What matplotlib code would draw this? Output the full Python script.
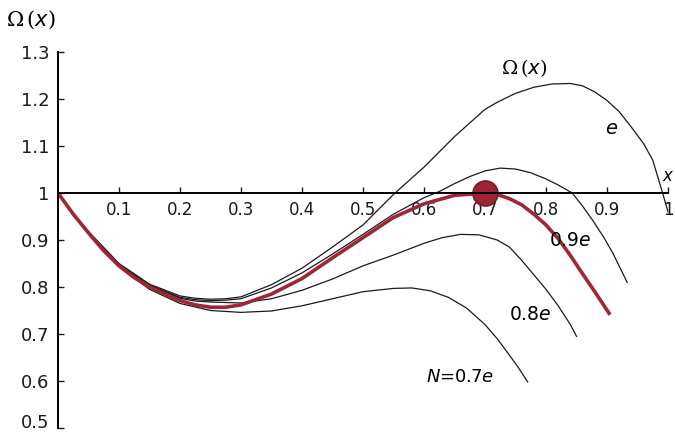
import matplotlib
matplotlib.use("Agg")
import matplotlib.pyplot as plt

# curve N = e
x_e = [0, 0.025, 0.05, 0.1, 0.15, 0.2, 0.225, 0.25, 0.275, 0.3, 0.35, 0.4, 0.45, 0.5, 0.55,
       0.6, 0.65, 0.7, 0.72, 0.75, 0.78, 0.81, 0.84, 0.86, 0.88, 0.9, 0.92, 0.94, 0.96,
       0.975, 0.99, 1.0]
y_e = [1, 0.957, 0.918, 0.85, 0.806, 0.781, 0.776, 0.774, 0.775, 0.779, 0.805, 0.84, 0.885,
       0.932, 0.997, 1.055, 1.12, 1.178, 1.193, 1.212, 1.225, 1.232, 1.233, 1.228, 1.215,
       1.197, 1.173, 1.14, 1.105, 1.07, 1.005, 0.96]

# curve N = 0.9e
x_09 = [0, 0.025, 0.05, 0.1, 0.15, 0.2, 0.225, 0.25, 0.275, 0.3, 0.35, 0.4, 0.45, 0.5,
        0.55, 0.6, 0.625, 0.65, 0.675, 0.7, 0.725, 0.75, 0.775, 0.8, 0.82, 0.843, 0.86,
        0.877, 0.895, 0.91, 0.933]
y_09 = [1, 0.956, 0.917, 0.848, 0.804, 0.778, 0.773, 0.771, 0.772, 0.775, 0.798, 0.83,
        0.87, 0.912, 0.955, 0.99, 1.003, 1.02, 1.035, 1.047, 1.053, 1.051, 1.043, 1.03,
        1.017, 1.0, 0.972, 0.941, 0.905, 0.871, 0.81]

# curve N = 0.8e
x_08 = [0, 0.025, 0.05, 0.1, 0.15, 0.2, 0.225, 0.25, 0.275, 0.3, 0.35, 0.4, 0.45, 0.5,
        0.55, 0.6, 0.63, 0.66, 0.69, 0.72, 0.74, 0.76, 0.78, 0.8, 0.82, 0.84, 0.85]
y_08 = [1, 0.956, 0.916, 0.846, 0.802, 0.776, 0.77, 0.768, 0.767, 0.766, 0.775, 0.793,
        0.817, 0.845, 0.868, 0.893, 0.905, 0.912, 0.911, 0.9, 0.885, 0.857, 0.826, 0.795,
        0.76, 0.72, 0.695]

# curve N = 0.7e
x_07 = [0, 0.025, 0.05, 0.1, 0.15, 0.2, 0.25, 0.3, 0.35, 0.4, 0.45, 0.5, 0.55, 0.58, 0.61,
        0.64, 0.67, 0.7, 0.72, 0.74, 0.755, 0.77]
y_07 = [1, 0.955, 0.915, 0.843, 0.795, 0.765, 0.75, 0.746, 0.749, 0.76, 0.775, 0.79, 0.797,
        0.798, 0.792, 0.778, 0.755, 0.72, 0.69, 0.655, 0.628, 0.598]

# highlighted curve
x_red = [0, 0.025, 0.05, 0.075, 0.1, 0.125, 0.15, 0.175, 0.2, 0.225, 0.25, 0.275, 0.3, 0.35,
         0.4, 0.45, 0.5, 0.55, 0.6, 0.65, 0.7, 0.72, 0.74, 0.76, 0.78, 0.8, 0.82, 0.84, 0.86,
         0.88, 0.905]
y_red = [1, 0.955, 0.915, 0.877, 0.845, 0.82, 0.8, 0.785, 0.771, 0.762, 0.757, 0.757, 0.762,
         0.785, 0.818, 0.862, 0.905, 0.948, 0.977, 0.995, 1.0, 0.997, 0.988, 0.975, 0.955,
         0.932, 0.903, 0.867, 0.828, 0.79, 0.741]

peak_x = [0.7]
peak_y = [1.0]

xticks = [0.1, 0.2, 0.3, 0.4, 0.5, 0.6, 0.7, 0.8, 0.9, 1.0]
xlabels = ["0.1", "0.2", "0.3", "0.4", "0.5", "0.6", "0.7", "0.8", "0.9", "1"]
yticks = [0.5, 0.6, 0.7, 0.8, 0.9, 1.0, 1.1, 1.2, 1.3]
ylabels = ["0.5", "0.6", "0.7", "0.8", "0.9", "1", "1.1", "1.2", "1.3"]

# serif Omega and brackets, italic sans letters as in the scan
plt.rcParams["mathtext.fontset"] = "custom"
plt.rcParams["mathtext.rm"] = "DejaVu Serif"
plt.rcParams["mathtext.it"] = "DejaVu Sans:italic"

fig = plt.figure(figsize=(6.75, 4.34), dpi=100)
ax = fig.add_axes([58 / 675, 0, 617 / 675, 1])
ax.set_xlim(0, 617 / 610)
ax.set_ylim(1 - 241 / 470, 1 + 193 / 470)

ink = "#1a1a1a"
for xs, ys in [(x_e, y_e), (x_09, y_09), (x_08, y_08), (x_07, y_07)]:
    ax.plot(xs, ys, color=ink, lw=0.9)

ax.plot(x_red, y_red, color="#a02637", lw=2.6, solid_capstyle="butt")
ax.plot(peak_x, peak_y, "o", ms=18, color="#9c2433", mec="#7a1a27", mew=1.2)

# axes as in the printed figure
for s in ["top", "right"]:
    ax.spines[s].set_visible(False)
ax.spines["left"].set_bounds(0.5, 1.3)
ax.spines["left"].set_linewidth(1.4)
ax.spines["bottom"].set_position(("data", 1.0))
ax.spines["bottom"].set_bounds(0, 1.0)
ax.spines["bottom"].set_linewidth(1.4)

ax.set_xticks(xticks, xlabels)
ax.set_yticks(yticks, ylabels)
ax.tick_params(axis="both", direction="in", length=4, width=1, colors=ink, labelsize=12)
ax.tick_params(axis="x", pad=6)
ax.tick_params(axis="y", pad=6, labelsize=13)
for lab in ax.get_yticklabels():
    if lab.get_text() == "0.5":
        lab.set_va("baseline")

ax.text(0.764, 1.265, r"$\Omega\,(x)$", fontsize=14, ha="center", va="center")
ax.text(0.908, 1.137, r"$e$", fontsize=14, ha="center", va="center")
ax.text(1.0, 1.036, r"$x$", fontsize=12, ha="center", va="center")
ax.text(0.839, 0.899, r"0.9$e$", fontsize=13.5, ha="center", va="center")
ax.text(0.774, 0.741, r"0.8$e$", fontsize=13.5, ha="center", va="center")
ax.text(0.659, 0.608, r"$N$=0.7$e$", fontsize=13, ha="center", va="center")
fig.text(31 / 675, 1 - 20 / 434, r"$\Omega\,(x)$", fontsize=15, ha="center", va="center")

fig.savefig("out.png", dpi=100)
